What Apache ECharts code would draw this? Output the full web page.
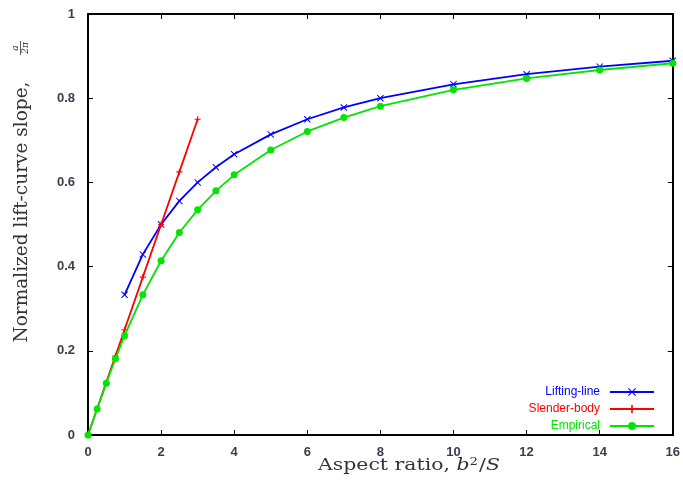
<!DOCTYPE html>
<html>
<head>
<meta charset="utf-8">
<script src="https://cdn.jsdelivr.net/npm/echarts@6/dist/echarts.min.js"></script>
<style>html,body{margin:0;padding:0;background:#fff}#c{width:683px;height:486px}</style>
</head>
<body>
<div id="c"></div>
<script>
// Data
var liftX = [1, 1.5, 2, 2.5, 3, 3.5, 4, 5, 6, 7, 8, 10, 12, 14, 16];
var liftY = [0.333, 0.429, 0.5, 0.556, 0.6, 0.636, 0.667, 0.714, 0.75, 0.778, 0.8, 0.833, 0.857, 0.875, 0.889];
var slenderX = [0, 0.25, 0.5, 0.75, 1, 1.5, 2, 2.5, 3];
var slenderY = [0, 0.0625, 0.125, 0.1875, 0.25, 0.375, 0.5, 0.625, 0.75];
var empX = [0, 0.25, 0.5, 0.75, 1, 1.5, 2, 2.5, 3, 3.5, 4, 5, 6, 7, 8, 10, 12, 14, 16];
var empY = [0, 0.062, 0.123, 0.181, 0.236, 0.333, 0.414, 0.481, 0.535, 0.580, 0.618, 0.677, 0.721, 0.754, 0.781, 0.820, 0.847, 0.867, 0.883];
var seriesNames = ['Lifting-line', 'Slender-body', 'Empirical'];
var seriesColors = ['#0000ff', '#ff0000', '#00e600'];
var xTicks = [0, 2, 4, 6, 8, 10, 12, 14, 16];
var yTicks = [0, 0.2, 0.4, 0.6, 0.8, 1];

function pairs(xs, ys) { return xs.map(function (x, i) { return [x, ys[i]]; }); }

var crossSym = 'path://M0,1L1,0L5,4L9,0L10,1L6,5L10,9L9,10L5,6L1,10L0,9L4,5Z';
var plusSym = 'path://M4,0H6V4H10V6H6V10H4V6H0V4H4Z';

var chart = echarts.init(document.getElementById('c'));
var labelStyle = { color: '#3c3c4e', fontFamily: 'Liberation Sans, Arial, sans-serif', fontSize: 13, fontWeight: 'bold' };
var axisLine = { show: true, onZero: false, lineStyle: { color: '#000', width: 2 } };
var tick = { show: true, inside: true, length: 5, lineStyle: { color: '#000', width: 1 } };

function xAx(pos, showLabel) {
  return {
    type: 'value', position: pos, min: xTicks[0], max: xTicks[xTicks.length - 1], interval: 2,
    axisLine: axisLine, axisTick: tick, splitLine: { show: false },
    axisLabel: showLabel ? Object.assign({ margin: 11, formatter: function (v) { return String(v); } }, labelStyle) : { show: false }
  };
}
function yAx(pos, showLabel) {
  return {
    type: 'value', position: pos, min: yTicks[0], max: yTicks[yTicks.length - 1], interval: 0.2,
    axisLine: axisLine, axisTick: tick, splitLine: { show: false },
    axisLabel: showLabel ? Object.assign({ margin: 13, formatter: function (v) { return String(Number(v.toFixed(1))); } }, labelStyle) : { show: false }
  };
}

var serifFont = 'DejaVu Serif, Liberation Serif, serif';

chart.setOption({
  animation: false,
  backgroundColor: '#fff',
  grid: { left: 88, right: 8, top: 14, bottom: 51 },
  xAxis: [xAx('bottom', true), xAx('top', false)],
  yAxis: [yAx('left', true), yAx('right', false)],
  legend: {
    orient: 'vertical', right: 28, top: 386, align: 'right', padding: 0,
    itemWidth: 44, itemHeight: 10, itemGap: 5,
    textStyle: { fontFamily: 'Liberation Sans, Arial, sans-serif', fontSize: 12, lineHeight: 10, padding: [0, 5, 0, 0] },
    data: seriesNames.map(function (n, i) { return { name: n, textStyle: { color: seriesColors[i] } }; })
  },
  series: [
    { name: seriesNames[0], type: 'line', data: pairs(liftX, liftY), color: seriesColors[0],
      symbol: crossSym, symbolSize: 7, lineStyle: { width: 1.8 }, z: 2 },
    { name: seriesNames[1], type: 'line', data: pairs(slenderX, slenderY), color: seriesColors[1],
      symbol: plusSym, symbolSize: 6, lineStyle: { width: 1.8 }, z: 3 },
    { name: seriesNames[2], type: 'line', data: pairs(empX, empY), color: seriesColors[2],
      symbol: 'circle', symbolSize: 7, lineStyle: { width: 1.8 }, z: 4 }
  ],
  graphic: [
    { type: 'group', x: 22, y: 212, rotation: Math.PI / 2, children: [
      { type: 'text', x: 0, y: 0, style: { text: 'Normalized lift-curve slope,', fill: '#333', font: '18.5px ' + serifFont, align: 'center', verticalAlign: 'middle' } },
      { type: 'text', x: 164, y: -6.5, style: { text: 'a', fill: '#333', font: 'italic 9px ' + serifFont, align: 'center', verticalAlign: 'middle' } },
      { type: 'line', shape: { x1: 157, y1: -1.5, x2: 171, y2: -1.5 }, style: { stroke: '#333', lineWidth: 0.8 } },
      { type: 'text', x: 164, y: 4, style: { text: '2π', fill: '#333', font: 'italic 9px ' + serifFont, align: 'center', verticalAlign: 'middle' } }
    ] },
    { type: 'text', x: 409, y: 466, scaleX: 1.2, originX: 0, style: {
      text: '{n|Aspect ratio, }{i|b}{s|2}{n|/}{i|S}',
      align: 'center', verticalAlign: 'middle',
      rich: {
        n: { font: '17px ' + serifFont, fill: '#333' },
        i: { font: 'italic 17px ' + serifFont, fill: '#333' },
        s: { font: '11px ' + serifFont, fill: '#333', verticalAlign: 'top', padding: [0, 1, 8, 0] }
      } } }
  ]
});
</script>
</body>
</html>
